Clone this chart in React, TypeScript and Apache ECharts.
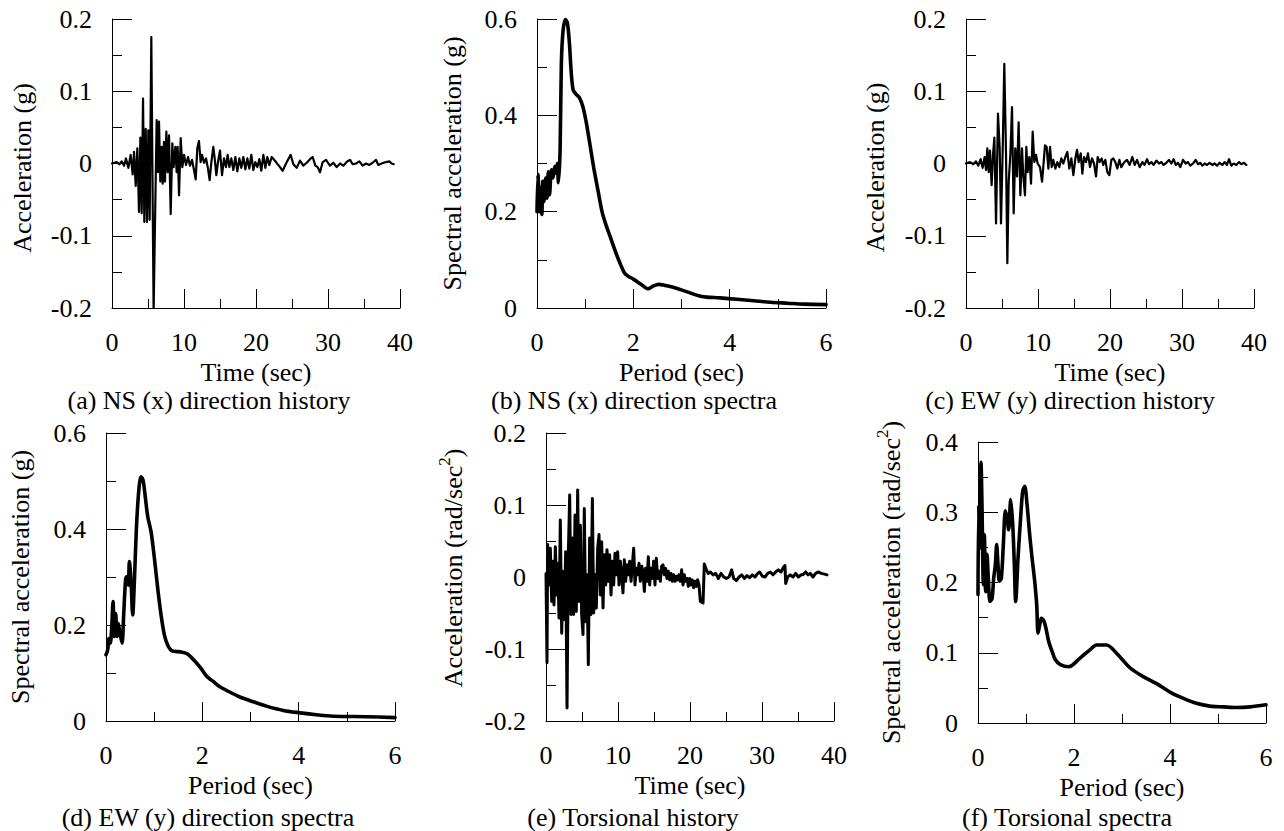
import React, { useEffect, useRef } from "react";
import * as echarts from "echarts";

const FONT = "Liberation Serif";

// (a) NS (x) direction acceleration history  [time (s), acceleration (g)]
const nsHistory: [number, number][] = [
  [0, 0], [0.65, 0.002], [1.02, -0.001], [1.34, 0.003], [1.67, -0.003], [1.94, 0.007], [2.27, -0.006],
  [2.59, 0.012], [2.87, -0.015], [3.06, 0.016], [3.29, -0.031], [3.52, 0.021], [3.75, -0.067], [3.94, 0.036],
  [4.12, -0.069], [4.31, 0.09], [4.49, -0.081], [4.68, 0.048], [4.86, -0.081], [5.05, 0.046], [5.23, -0.078],
  [5.46, 0.175], [5.78, -0.205], [6.2, 0.06], [6.39, -0.012], [6.53, 0.058], [6.71, -0.025], [6.9, 0.023],
  [7.04, -0.028], [7.22, 0.03], [7.36, -0.025], [7.55, 0.044], [7.73, -0.012], [7.92, 0.039], [8.15, -0.07],
  [8.38, 0.028], [8.56, -0.005], [8.8, 0.023], [8.98, -0.012], [9.12, 0.023], [9.31, -0.044], [9.54, 0.035],
  [9.77, -0.005], [10.0, 0.012], [10.28, -0.002], [10.56, 0.009], [10.83, -0.003], [11.11, 0.005],
  [11.39, -0.009], [11.62, -0.022], [11.85, 0.021], [12.08, 0.031], [12.31, 0.002], [12.5, 0.012],
  [12.78, 0.001], [13.06, 0.007], [13.33, -0.007], [13.56, -0.023], [13.8, 0.002], [14.07, 0.023],
  [14.26, 0.007], [14.49, -0.016], [14.72, 0.002], [15.0, 0.018], [15.28, -0.016], [15.56, 0.007],
  [15.83, -0.005], [16.06, 0.012], [16.3, -0.005], [16.57, 0.007], [16.85, -0.009], [17.13, 0.009],
  [17.41, -0.011], [17.69, 0.007], [17.96, -0.006], [18.24, 0.009], [18.52, -0.008], [18.8, 0.007],
  [19.07, -0.007], [19.35, 0.012], [19.63, -0.009], [19.91, 0.002], [20.19, -0.005], [20.46, 0.006],
  [20.74, -0.01], [21.02, 0.012], [21.3, -0.006], [21.57, 0.009], [21.85, -0.002], [22.18, 0.009],
  [22.78, 0.002], [23.33, -0.005], [23.7, -0.01], [24.17, 0], [24.54, 0.007], [24.81, 0.012],
  [25.19, -0.001], [25.65, -0.006], [26.11, 0.004], [26.57, -0.003], [27.04, 0.001], [27.5, 0.006],
  [27.87, 0.009], [28.24, -0.003], [28.56, -0.005], [28.89, -0.012], [29.26, 0.002], [29.72, 0.005],
  [30.28, -0.003], [30.74, 0.001], [31.2, -0.005], [31.67, 0], [32.13, -0.003], [32.69, 0.003],
  [33.06, 0.005], [33.43, -0.001], [33.89, 0], [34.35, 0.003], [34.81, -0.003], [35.28, 0],
  [35.74, -0.002], [36.2, 0.001], [36.67, 0.005], [36.99, -0.002], [37.45, 0], [38.06, 0.002],
  [38.52, 0.003], [38.84, 0], [39.12, -0.001],
];

// (b) NS (x) direction spectra  [period (s), spectral acceleration (g)]
const nsSpectra: [number, number][] = [
  [0, 0.2], [0.02, 0.277], [0.05, 0.2], [0.07, 0.25], [0.1, 0.194], [0.12, 0.263], [0.145, 0.221],
  [0.18, 0.27], [0.21, 0.228], [0.235, 0.283], [0.26, 0.235], [0.3, 0.287], [0.33, 0.27], [0.37, 0.294],
  [0.39, 0.28], [0.42, 0.3], [0.445, 0.26], [0.48, 0.33], [0.505, 0.505], [0.54, 0.575], [0.59, 0.599],
  [0.63, 0.592], [0.67, 0.554], [0.71, 0.49], [0.75, 0.453], [0.81, 0.444], [0.88, 0.437], [0.95, 0.419],
  [1.02, 0.387], [1.1, 0.339], [1.18, 0.29], [1.27, 0.242], [1.35, 0.2], [1.43, 0.173], [1.53, 0.145],
  [1.64, 0.114], [1.74, 0.089], [1.82, 0.072], [1.91, 0.065], [2.0, 0.06], [2.15, 0.05], [2.3, 0.04],
  [2.42, 0.046], [2.53, 0.049], [2.65, 0.047], [2.83, 0.043], [3.1, 0.034], [3.42, 0.024], [3.8, 0.021],
  [4.15, 0.018], [4.5, 0.015], [4.85, 0.012], [5.2, 0.01], [5.55, 0.008], [6.0, 0.007],
];

// (c) EW (y) direction acceleration history
const ewHistory: [number, number][] = [
  [0, 0], [0.56, 0.002], [1.02, -0.001], [1.39, 0.003], [1.71, -0.003], [2.04, 0.006], [2.31, -0.006],
  [2.59, 0.009], [2.78, -0.009], [2.96, 0.021], [3.15, -0.012], [3.33, 0.018], [3.56, -0.03], [3.75, 0.012],
  [3.94, 0.036], [4.17, -0.083], [4.44, 0.069], [4.68, 0.021], [4.86, -0.083], [5.09, 0.016], [5.32, 0.138],
  [5.56, 0.012], [5.74, -0.138], [5.93, -0.025], [6.16, 0.012], [6.39, 0.078], [6.62, -0.069], [6.85, 0.021],
  [7.08, -0.018], [7.31, 0.057], [7.55, -0.044], [7.78, 0.021], [7.96, -0.018], [8.19, -0.044], [8.38, 0.023],
  [8.56, -0.012], [8.8, 0.009], [9.03, -0.028], [9.26, 0.044], [9.49, 0.002], [9.72, 0.012], [9.95, 0],
  [10.28, -0.005], [10.56, -0.025], [10.79, 0.002], [10.97, 0.025], [11.2, 0.023], [11.44, -0.007],
  [11.67, 0.023], [11.9, -0.005], [12.13, 0.005], [12.41, -0.007], [12.69, 0.002], [12.96, -0.005],
  [13.24, 0.007], [13.52, 0], [13.8, 0.009], [14.07, 0.016], [14.35, -0.007], [14.63, 0.007],
  [14.91, -0.016], [15.19, 0.007], [15.42, 0.019], [15.65, 0.002], [15.93, 0.014], [16.16, -0.014],
  [16.39, 0.009], [16.67, 0.002], [16.94, 0.014], [17.22, -0.005], [17.5, 0.007], [17.78, 0],
  [18.06, -0.018], [18.29, 0.009], [18.56, 0.002], [18.84, 0.007], [19.07, -0.002], [19.35, 0.005],
  [19.63, -0.012], [19.91, -0.016], [20.19, 0.005], [20.46, 0.007], [20.74, 0.002], [21.02, -0.007],
  [21.3, 0.005], [21.57, -0.005], [21.99, 0.002], [22.36, 0.005], [22.73, -0.002], [23.1, 0.009],
  [23.43, -0.002], [23.75, 0.005], [24.12, -0.005], [24.49, 0.002], [24.81, -0.002], [25.14, 0.006],
  [25.42, -0.001], [25.74, 0.002], [26.06, -0.002], [26.44, 0.004], [26.81, 0], [27.13, 0.002],
  [27.45, -0.002], [27.82, 0.001], [28.19, 0.005], [28.52, 0], [28.84, 0.006], [29.12, -0.002],
  [29.44, 0.001], [29.77, -0.005], [30.14, 0.005], [30.51, 0], [30.83, 0.002], [31.16, -0.003],
  [31.53, 0], [31.9, 0.005], [32.22, -0.001], [32.55, 0.001], [32.82, -0.003], [33.15, 0],
  [33.47, -0.002], [33.84, 0.001], [34.21, -0.002], [34.54, 0], [34.86, -0.003], [35.23, 0.001],
  [35.6, -0.002], [35.93, 0.002], [36.25, -0.002], [36.53, 0.006], [36.85, -0.003], [37.18, 0],
  [37.55, -0.002], [37.92, 0.002], [38.24, -0.001], [38.61, 0.001], [38.94, -0.002],
];

// (d) EW (y) direction spectra
const ewSpectra: [number, number][] = [
  [0, 0.138], [0.035, 0.148], [0.062, 0.172], [0.09, 0.162], [0.118, 0.193], [0.146, 0.249], [0.173, 0.176],
  [0.201, 0.224], [0.229, 0.176], [0.256, 0.203], [0.284, 0.186], [0.333, 0.162], [0.367, 0.221],
  [0.409, 0.297], [0.437, 0.301], [0.464, 0.283], [0.485, 0.332], [0.52, 0.29], [0.554, 0.221],
  [0.589, 0.29], [0.631, 0.401], [0.679, 0.478], [0.728, 0.509], [0.769, 0.502], [0.811, 0.471],
  [0.866, 0.426], [0.936, 0.394], [1.005, 0.339], [1.074, 0.276], [1.143, 0.221], [1.213, 0.179],
  [1.282, 0.158], [1.372, 0.146], [1.545, 0.144], [1.684, 0.14], [1.823, 0.127], [1.961, 0.111],
  [2.1, 0.092], [2.22, 0.083], [2.34, 0.073], [2.5, 0.064], [2.78, 0.05], [3.06, 0.04], [3.33, 0.031],
  [3.68, 0.022], [4.03, 0.017], [4.37, 0.013], [4.72, 0.01], [5.41, 0.009], [6.0, 0.007],
];

// (e) Torsional acceleration history  [time (s), rad/sec^2]
const torsionHistory: [number, number][] = [
  [0, 0.005], [0.14, -0.119], [0.23, 0.045], [0.42, -0.011], [0.6, 0.04], [0.79, -0.034], [0.97, 0.022],
  [1.11, -0.039], [1.3, 0.042], [1.48, -0.025], [1.62, 0.019], [1.81, -0.057], [1.99, 0.079], [2.18, -0.078],
  [2.36, 0.008], [2.55, -0.059], [2.73, 0.035], [2.92, -0.182], [3.1, 0.031], [3.29, 0.114], [3.47, -0.052],
  [3.66, 0.054], [3.84, -0.052], [4.03, 0.086], [4.21, -0.048], [4.4, 0.121], [4.58, -0.034], [4.77, 0.072],
  [4.95, -0.052], [5.14, -0.08], [5.32, 0.095], [5.51, -0.062], [5.69, 0.003], [5.88, -0.122], [6.06, 0.054],
  [6.25, -0.052], [6.44, 0.109], [6.62, -0.05], [6.81, 0.003], [6.99, -0.043], [7.18, 0.04], [7.36, 0.059],
  [7.55, -0.025], [7.73, 0.049], [7.92, -0.043], [8.1, 0.031], [8.29, -0.011], [8.47, 0.038], [8.66, -0.006],
  [8.84, 0.031], [9.03, -0.025], [9.21, 0.022], [9.4, -0.011], [9.58, 0.033], [9.77, 0.003], [9.95, 0.035],
  [10.14, -0.011], [10.32, 0.022], [10.51, 0.003], [10.69, -0.022], [10.88, 0.024], [11.06, -0.006],
  [11.25, 0.017], [11.44, 0.003], [11.62, 0.022], [11.81, -0.006], [11.99, 0.017], [12.18, 0.04],
  [12.36, -0.011], [12.55, 0.012], [12.73, 0.003], [12.92, 0.019], [13.1, -0.006], [13.29, 0.015],
  [13.47, 0.008], [13.66, -0.02], [13.84, 0.012], [14.03, -0.006], [14.21, 0.028], [14.4, -0.011],
  [14.58, 0.012], [14.77, -0.002], [14.95, 0.022], [15.14, -0.011], [15.32, 0.026], [15.51, -0.002],
  [15.69, 0.008], [15.88, -0.006], [16.06, 0.015], [16.25, 0.017], [16.44, 0.003], [16.62, 0.012],
  [16.81, -0.002], [16.99, 0.008], [17.18, -0.004], [17.36, 0.005], [17.55, -0.006], [17.73, 0.003],
  [17.92, -0.006], [18.1, 0.001], [18.29, -0.004], [18.47, 0.003], [18.66, -0.006], [18.84, 0.01],
  [19.03, -0.011], [19.21, 0.003], [19.4, -0.006], [19.58, -0.002], [19.77, -0.013], [19.95, -0.002],
  [20.14, -0.011], [20.32, -0.004], [20.51, -0.015], [20.69, -0.006], [20.88, -0.013], [21.06, -0.004],
  [21.25, -0.011], [21.44, -0.034], [21.81, -0.036], [21.99, 0.018], [22.27, 0.01], [22.55, 0.005],
  [22.82, 0.007], [23.19, 0.003], [23.56, 0.005], [23.94, -0.002], [24.31, 0.005], [24.68, 0],
  [25.05, -0.002], [25.42, 0], [25.79, 0.01], [26.06, -0.002], [26.44, -0.005], [26.81, 0], [27.18, 0.003],
  [27.55, -0.002], [27.92, 0.002], [28.29, -0.001], [28.66, 0.003], [29.03, 0], [29.4, 0.005],
  [29.68, 0.007], [30.05, 0.001], [30.42, 0], [30.79, 0.005], [31.16, 0.007], [31.53, 0.003], [31.9, 0.007],
  [32.27, 0.01], [32.64, 0.007], [33.01, 0.014], [33.19, 0.016], [33.29, -0.009], [33.56, 0], [33.94, 0.003],
  [34.31, 0], [34.68, 0.005], [35.05, 0], [35.42, 0.003], [35.69, 0.003], [36.06, 0.007], [36.39, 0.003],
  [36.71, 0.005], [37.08, 0], [37.45, 0.005], [37.78, 0.007], [38.24, 0.005], [38.7, 0.004], [39.03, 0.003],
];

// (f) Torsional spectra  [period (s), rad/sec^2]
const torsionSpectra: [number, number][] = [
  [0, 0.183], [0.014, 0.311], [0.035, 0.249], [0.063, 0.371], [0.083, 0.311], [0.111, 0.197], [0.132, 0.268],
  [0.16, 0.187], [0.188, 0.24], [0.215, 0.206], [0.25, 0.173], [0.292, 0.177], [0.327, 0.206], [0.361, 0.225],
  [0.389, 0.254], [0.417, 0.225], [0.445, 0.202], [0.486, 0.206], [0.528, 0.254], [0.57, 0.302],
  [0.605, 0.292], [0.639, 0.275], [0.681, 0.318], [0.723, 0.283], [0.757, 0.226], [0.785, 0.173],
  [0.834, 0.235], [0.883, 0.287], [0.931, 0.33], [0.973, 0.337], [1.022, 0.311], [1.07, 0.273],
  [1.126, 0.235], [1.181, 0.202], [1.223, 0.168], [1.251, 0.128], [1.286, 0.14], [1.32, 0.149],
  [1.369, 0.146], [1.418, 0.134], [1.473, 0.116], [1.543, 0.102], [1.612, 0.09], [1.716, 0.083],
  [1.89, 0.08], [2.12, 0.092], [2.33, 0.104], [2.47, 0.111], [2.68, 0.111], [2.89, 0.099], [3.16, 0.079],
  [3.44, 0.066], [3.72, 0.056], [4.0, 0.044], [4.28, 0.035], [4.55, 0.028], [4.83, 0.024], [5.11, 0.023],
  [5.39, 0.022], [5.67, 0.023], [6.0, 0.026],
];

const captions = [
  "(a) NS (x) direction history",
  "(b) NS (x) direction spectra",
  "(c) EW (y) direction history",
  "(d) EW (y) direction spectra",
  "(e) Torsional history",
  "(f) Torsional spectra",
];

const TIME_NAME = "Time (sec)";
const PERIOD_NAME = "Period (sec)";

function xAxis(gridIndex: number, max: number, interval: number, name: string) {
  return {
    type: "value",
    gridIndex,
    min: 0,
    max,
    interval,
    name,
    nameLocation: "middle",
    nameGap: 53,
    nameTextStyle: { fontFamily: FONT, fontSize: 26, lineHeight: 22, color: "#000" },
    axisLine: { show: true, onZero: false, lineStyle: { color: "#000", width: 1 } },
    axisTick: { show: true, inside: true, length: 19, lineStyle: { color: "#000", width: 1 } },
    minorTick: { show: true, splitNumber: 2, length: 9, lineStyle: { color: "#000", width: 1 } },
    splitLine: { show: false },
    minorSplitLine: { show: false },
    axisLabel: { fontFamily: FONT, fontSize: 26, color: "#000", margin: 21 },
  };
}

function yAxis(
  gridIndex: number,
  min: number,
  max: number,
  interval: number,
  name: string,
  nameGap: number,
  nameStyleExtra: any = {}
) {
  return {
    type: "value",
    gridIndex,
    min,
    max,
    interval,
    name,
    nameLocation: "middle",
    nameRotate: 90,
    nameGap,
    nameTextStyle: { fontFamily: FONT, fontSize: 26, color: "#000", ...nameStyleExtra },
    axisLine: { show: true, onZero: false, lineStyle: { color: "#000", width: 1 } },
    axisTick: { show: true, inside: true, length: 20, lineStyle: { color: "#000", width: 1 } },
    minorTick: { show: true, splitNumber: 2, length: 10, lineStyle: { color: "#000", width: 1 } },
    splitLine: { show: false },
    minorSplitLine: { show: false },
    axisLabel: { fontFamily: FONT, fontSize: 26, color: "#000", margin: 20 },
  };
}

const supRich = {
  a: { fontFamily: FONT, fontSize: 26, color: "#000", lineHeight: 34 },
  s: { fontFamily: FONT, fontSize: 17, color: "#000", verticalAlign: "top", lineHeight: 17 },
};

function lineSeries(idx: number, data: [number, number][], width: number, smooth: number | boolean) {
  return {
    type: "line",
    xAxisIndex: idx,
    yAxisIndex: idx,
    data,
    showSymbol: false,
    symbol: "none",
    smooth,
    clip: true,
    silent: true,
    lineStyle: { color: "#000", width, cap: "round", join: "round" },
  };
}

export default function App() {
  const ref = useRef<HTMLDivElement>(null);

  useEffect(() => {
    if (!ref.current) return;
    const chart = echarts.init(ref.current, undefined, { renderer: "svg" });

    const captionPos = [
      [209, 400],
      [634, 400],
      [1070, 400],
      [208, 817],
      [633, 817],
      [1067, 817],
    ];

    chart.setOption({
      animation: false,
      backgroundColor: "#fff",
      textStyle: { fontFamily: FONT, color: "#000" },
      grid: [
        { left: 112, top: 19, width: 288, height: 289 },
        { left: 537, top: 19, width: 289, height: 289 },
        { left: 966, top: 19, width: 288, height: 289 },
        { left: 106, top: 433, width: 289, height: 288 },
        { left: 546, top: 433, width: 288, height: 288 },
        { left: 978, top: 442, width: 288, height: 281 },
      ],
      xAxis: [
        xAxis(0, 40, 10, TIME_NAME),
        xAxis(1, 6, 2, PERIOD_NAME),
        xAxis(2, 40, 10, TIME_NAME),
        xAxis(3, 6, 2, PERIOD_NAME),
        xAxis(4, 40, 10, TIME_NAME),
        xAxis(5, 6, 2, PERIOD_NAME),
      ],
      yAxis: [
        yAxis(0, -0.2, 0.2, 0.1, "Acceleration (g)", 77, { padding: [0, 9, 0, 0] }),
        yAxis(1, 0, 0.6, 0.2, "Spectral acceleration (g)", 72),
        yAxis(2, -0.2, 0.2, 0.1, "Acceleration (g)", 78, { padding: [0, 8, 0, 0] }),
        yAxis(3, 0, 0.6, 0.2, "Spectral acceleration (g)", 73),
        yAxis(4, -0.2, 0.2, 0.1, "{a|Acceleration (rad/sec}{s|2}{a|)}", 76, {
          padding: [0, 0, 0, 18],
          rich: supRich,
        }),
        yAxis(5, 0, 0.4, 0.1, "{a|Spectral acceleration (rad/sec}{s|2}{a|)}", 70, { rich: supRich }),
      ],
      series: [
        lineSeries(0, nsHistory, 2.2, false),
        lineSeries(1, nsSpectra, 3.6, 0.3),
        lineSeries(2, ewHistory, 2.2, false),
        lineSeries(3, ewSpectra, 3.6, 0.3),
        lineSeries(4, torsionHistory, 3, false),
        lineSeries(5, torsionSpectra, 3.6, 0.3),
      ],
      graphic: captions.map((text, i) => ({
        type: "text",
        x: captionPos[i][0],
        y: captionPos[i][1],
        silent: true,
        style: {
          text,
          fontFamily: FONT,
          fontSize: 26,
          lineHeight: 22,
          fill: "#000",
          align: "center",
          verticalAlign: "middle",
          textAlign: "center",
          textVerticalAlign: "middle",
        },
      })),
    });

    return () => {
      chart.dispose();
    };
  }, []);

  return (
    <div
      ref={ref}
      style={{ position: "absolute", left: 0, top: 0, width: 1284, height: 831, background: "#fff" }}
    />
  );
}
